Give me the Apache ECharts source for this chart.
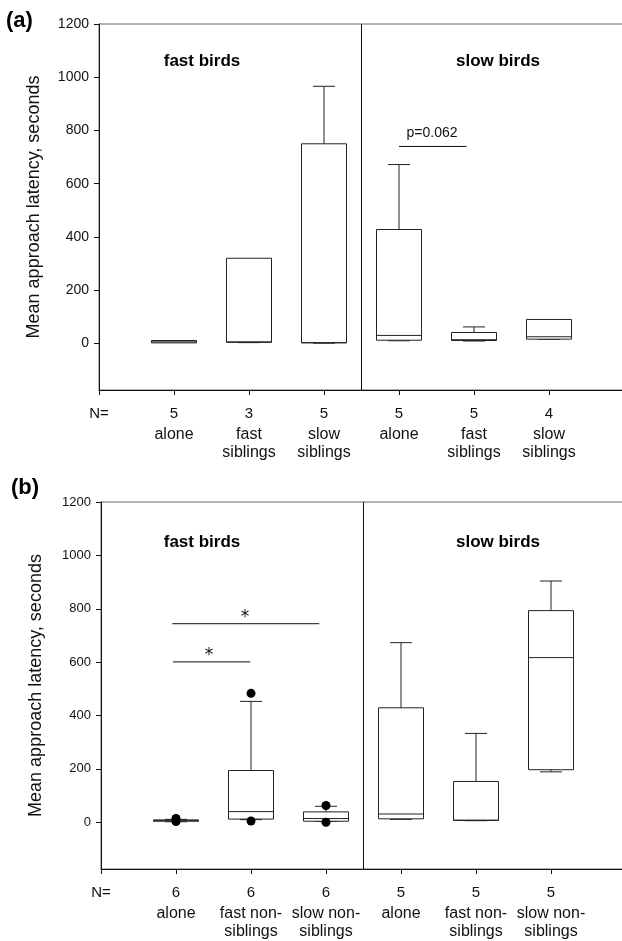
<!DOCTYPE html>
<html>
<head>
<meta charset="utf-8">
<script src="https://cdn.jsdelivr.net/npm/echarts@6.0.0/dist/echarts.min.js"></script>
<style>
  html, body { margin: 0; padding: 0; background: #fff; }
  #main { width: 622px; height: 941px; }
</style>
</head>
<body>
<div id="main"></div>
<script>
// 类别（两个面板）
var namesA = ['alone', 'fast\nsiblings', 'slow\nsiblings', 'alone', 'fast\nsiblings', 'slow\nsiblings'];
var namesB = ['alone', 'fast non-\nsiblings', 'slow non-\nsiblings', 'alone', 'fast non-\nsiblings', 'slow non-\nsiblings'];
var countsA = [5, 3, 5, 5, 5, 4];
var countsB = [6, 6, 6, 5, 5, 5];
var yTicks = [0, 200, 400, 600, 800, 1000, 1200];

// 箱线图数据 [min, Q1, median, Q3, max]
var boxesA = [
  [2, 2, 6, 11, 11],
  [3, 4, 6, 320, 320],
  [1, 2, 3, 750, 966],
  [10, 12, 30, 428, 672],
  [9, 11, 14, 41, 62],
  [15, 16, 25, 90, 90]
];
var boxesB = [
  [2, 4, 6, 9, 11],
  [10, 12, 40, 194, 453],
  [3, 4, 14, 39, 60],
  [11, 13, 31, 429, 673],
  [6, 7, 8, 153, 333],
  [189, 197, 617, 793, 904]
];
// 离群点 [类别序号, 数值]
var outliersB = [[1, 3], [1, 14], [2, 483], [2, 5], [3, 63], [3, 0]];

// 显著性标注
var sigLineA = [[4, 740], [4.9, 740]];
var sigTextA = [[4.44, 790, 'p=0.062']];
var sigLinesB = [
  [[0.95, 744], [2.91, 744]],
  [[0.96, 601], [1.99, 601]]
];
var sigTextB = [[1.92, 768, '*'], [1.44, 624, '*']];

var keys = ['k0', 'k1', 'k2', 'k3', 'k4', 'k5', 'k6', 'k7'];

function labelFmt(names, counts) {
  return function (val) {
    var i = keys.indexOf(val);
    if (i === 0) return '{n|N=}';
    if (i < 1 || i > 6) return '';
    return '{n|' + counts[i - 1] + '}\n' +
      names[i - 1].split('\n').map(function (s) { return '{c|' + s + '}'; }).join('\n');
  };
}

function renderBox(params, api) {
  var idx = api.value(0);
  var lo = api.coord([idx, api.value(1)]);
  var q1 = api.coord([idx, api.value(2)]);
  var md = api.coord([idx, api.value(3)]);
  var q3 = api.coord([idx, api.value(4)]);
  var hi = api.coord([idx, api.value(5)]);
  var x = lo[0], hw = 22.5, cw = 11;
  var st = { stroke: '#222', lineWidth: 1 };
  var ch = [];
  if (api.value(5) > api.value(4)) {
    ch.push({ type: 'line', shape: { x1: x, y1: q3[1], x2: x, y2: hi[1] }, style: st });
    ch.push({ type: 'line', shape: { x1: x - cw, y1: hi[1], x2: x + cw, y2: hi[1] }, style: st });
  }
  if (api.value(1) < api.value(2)) {
    ch.push({ type: 'line', shape: { x1: x, y1: q1[1], x2: x, y2: lo[1] }, style: st });
    ch.push({ type: 'line', shape: { x1: x - cw, y1: lo[1], x2: x + cw, y2: lo[1] }, style: st });
  }
  ch.push({ type: 'rect', shape: { x: x - hw, y: q3[1], width: hw * 2, height: Math.max(q1[1] - q3[1], 1) },
    style: { fill: '#fff', stroke: '#222', lineWidth: 1 } });
  ch.push({ type: 'line', shape: { x1: x - hw, y1: md[1], x2: x + hw, y2: md[1] }, style: st });
  return { type: 'group', children: ch };
}

function boxData(boxes) {
  return boxes.map(function (b, i) { return [i + 1].concat(b); });
}

function catAxis(gridIndex, names, counts) {
  return {
    type: 'category', gridIndex: gridIndex, data: keys, boundaryGap: false,
    axisLine: { onZero: false, lineStyle: { color: '#111', width: 1 } },
    axisTick: { length: 5, lineStyle: { color: '#111' } },
    axisLabel: {
      interval: 0, margin: 12, verticalAlign: 'top', color: '#111',
      formatter: labelFmt(names, counts),
      rich: {
        n: { fontSize: 15, lineHeight: 24, fontFamily: 'Liberation Sans', color: '#111' },
        c: { fontSize: 16, lineHeight: 18, fontFamily: 'Liberation Sans', color: '#111' }
      }
    }
  };
}

function valAxis(gridIndex, fs) {
  return {
    type: 'value', gridIndex: gridIndex, min: -175, max: 1200,
    name: 'Mean approach latency, seconds', nameLocation: 'middle', nameGap: 56,
    nameTextStyle: { fontSize: 18, fontFamily: 'Liberation Sans', color: '#111' },
    splitLine: { show: false },
    axisLine: { show: true, onZero: false, lineStyle: { color: '#111' } },
    axisTick: { show: true, length: 5, customValues: yTicks, lineStyle: { color: '#111' } },
    axisLabel: { customValues: yTicks, margin: 10, fontSize: fs, fontFamily: 'Liberation Sans', color: '#111',
      formatter: function (v) { return String(v); } }
  };
}

var lineStyleK = { color: '#111', width: 1 };

function lineSeries(xIdx, yIdx, data) {
  return { type: 'line', xAxisIndex: xIdx, yAxisIndex: yIdx, data: data, symbol: 'none',
    lineStyle: lineStyleK, silent: true, animation: false };
}

function textSeries(xIdx, yIdx, data, fs, font) {
  return {
    type: 'scatter', xAxisIndex: xIdx, yAxisIndex: yIdx, symbolSize: 1,
    itemStyle: { color: 'rgba(0,0,0,0)', opacity: 1 }, animation: false,
    data: data.map(function (d) { return { value: [d[0], d[1]], name: d[2] }; }),
    label: { show: true, position: 'inside', formatter: '{b}', fontSize: fs,
      fontFamily: font, color: '#111' }
  };
}

var chart = echarts.init(document.getElementById('main'));
var option = {
  animation: false,
  backgroundColor: '#fff',
  grid: [
    { left: 99, top: 24, width: 525, height: 366, outerBoundsMode: 'none', containLabel: false,
      show: true, borderColor: '#666', borderWidth: 1 },
    { left: 101, top: 502, width: 525, height: 367, outerBoundsMode: 'none', containLabel: false,
      show: true, borderColor: '#666', borderWidth: 1 }
  ],
  xAxis: [
    catAxis(0, namesA, countsA),
    { type: 'value', gridIndex: 0, min: 0, max: 7, show: false },
    catAxis(1, namesB, countsB),
    { type: 'value', gridIndex: 1, min: 0, max: 7, show: false }
  ],
  yAxis: [valAxis(0, 14), valAxis(1, 13)],
  graphic: [
    { type: 'text', left: 6, top: 10, style: { text: '(a)', fontSize: 22, fontWeight: 'bold', fontFamily: 'Liberation Sans', fill: '#000' } },
    { type: 'text', left: 11, top: 477, style: { text: '(b)', fontSize: 22, fontWeight: 'bold', fontFamily: 'Liberation Sans', fill: '#000' } },
    { type: 'text', x: 202, y: 61, style: { text: 'fast birds', fontSize: 17, fontWeight: 'bold', fontFamily: 'Liberation Sans', fill: '#000', align: 'center', verticalAlign: 'middle' } },
    { type: 'text', x: 498, y: 61, style: { text: 'slow birds', fontSize: 17, fontWeight: 'bold', fontFamily: 'Liberation Sans', fill: '#000', align: 'center', verticalAlign: 'middle' } },
    { type: 'text', x: 202, y: 542, style: { text: 'fast birds', fontSize: 17, fontWeight: 'bold', fontFamily: 'Liberation Sans', fill: '#000', align: 'center', verticalAlign: 'middle' } },
    { type: 'text', x: 498, y: 542, style: { text: 'slow birds', fontSize: 17, fontWeight: 'bold', fontFamily: 'Liberation Sans', fill: '#000', align: 'center', verticalAlign: 'middle' } }
  ],
  series: [
    // 面板 (a)
    { type: 'custom', xAxisIndex: 0, yAxisIndex: 0, renderItem: renderBox, data: boxData(boxesA),
      encode: { x: 0, y: [1, 2, 3, 4, 5] } },
    lineSeries(1, 0, [[3.5, -175], [3.5, 1200]]),
    lineSeries(1, 0, sigLineA),
    textSeries(1, 0, sigTextA, 14, 'Liberation Sans'),
    // 面板 (b)
    { type: 'custom', xAxisIndex: 2, yAxisIndex: 1, renderItem: renderBox, data: boxData(boxesB),
      encode: { x: 0, y: [1, 2, 3, 4, 5] } },
    { type: 'scatter', xAxisIndex: 2, yAxisIndex: 1, symbolSize: 9, itemStyle: { color: '#000', opacity: 1 },
      data: outliersB, z: 5 },
    lineSeries(3, 1, [[3.5, -175], [3.5, 1200]]),
    lineSeries(3, 1, sigLinesB[0]),
    lineSeries(3, 1, sigLinesB[1]),
    textSeries(3, 1, sigTextB, 17, 'DejaVu Sans')
  ]
};
chart.setOption(option);
</script>
</body>
</html>
